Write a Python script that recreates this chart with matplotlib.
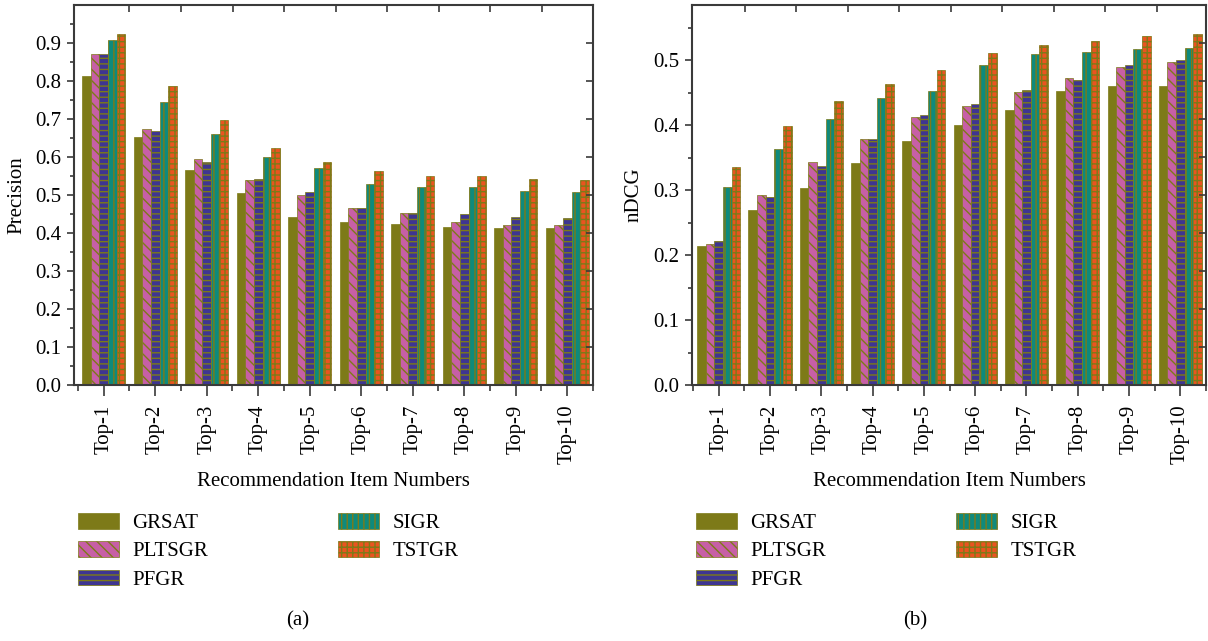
import numpy as np
import matplotlib
matplotlib.use("Agg")
import matplotlib.pyplot as plt
from matplotlib.patches import Patch

categories = ["Top-1", "Top-2", "Top-3", "Top-4", "Top-5",
              "Top-6", "Top-7", "Top-8", "Top-9", "Top-10"]
methods = ["GRSAT", "PLTSGR", "PFGR", "SIGR", "TSTGR"]

precision_grsat = [0.812, 0.652, 0.567, 0.505, 0.442, 0.430, 0.425, 0.417, 0.412, 0.412]
precision_pltsgr = [0.870, 0.675, 0.594, 0.539, 0.500, 0.465, 0.452, 0.430, 0.420, 0.421]
precision_pfgr = [0.872, 0.669, 0.588, 0.543, 0.507, 0.465, 0.452, 0.450, 0.443, 0.440]
precision_sigr = [0.907, 0.744, 0.660, 0.601, 0.570, 0.530, 0.522, 0.520, 0.510, 0.509]
precision_tstgr = [0.924, 0.788, 0.697, 0.623, 0.588, 0.562, 0.550, 0.550, 0.543, 0.540]

ndcg_grsat = [0.214, 0.269, 0.304, 0.341, 0.375, 0.401, 0.423, 0.453, 0.460, 0.460]
ndcg_pltsgr = [0.217, 0.292, 0.344, 0.379, 0.412, 0.430, 0.451, 0.473, 0.489, 0.498]
ndcg_pfgr = [0.221, 0.290, 0.337, 0.378, 0.415, 0.433, 0.454, 0.470, 0.493, 0.500]
ndcg_sigr = [0.305, 0.363, 0.409, 0.442, 0.453, 0.493, 0.509, 0.513, 0.517, 0.519]
ndcg_tstgr = [0.335, 0.399, 0.437, 0.463, 0.485, 0.511, 0.524, 0.530, 0.538, 0.541]

precision = [precision_grsat, precision_pltsgr, precision_pfgr, precision_sigr, precision_tstgr]
ndcg = [ndcg_grsat, ndcg_pltsgr, ndcg_pfgr, ndcg_sigr, ndcg_tstgr]

facecolors = ["#7d7a18", "#c75fa6", "#3e3592", "#0e8a7c", "#ea5420"]
hatches = [None, "\\\\\\", "---", "|||", "+++"]
hatch_edge = "#7d7a18"

plt.rcParams["font.family"] = ["Liberation Serif", "DejaVu Serif"]
plt.rcParams["hatch.linewidth"] = 1.0
FS = 15
spine_col = "#3a3a3a"

fig = plt.figure(figsize=(12.08, 6.41), dpi=100)
W, H = 1208, 641


def make_panel(px_left, px_right, data, ylim, ymajor, ylabel, ylabel_x, xlim, cap, cap_x):
    ax = fig.add_axes([px_left / W, (H - 385) / H, (px_right - px_left) / W, 380 / H])
    x = np.arange(len(categories))
    bw = 0.168
    for i, vals in enumerate(data):
        ax.bar(x + (i - 2) * bw, vals, width=bw, facecolor=facecolors[i],
               edgecolor=hatch_edge if hatches[i] else facecolors[i],
               hatch=hatches[i], linewidth=0.5, zorder=2)
    ax.set_xlim(*xlim)
    ax.set_ylim(*ylim)
    ax.set_xticks(x)
    ax.set_xticklabels(categories, rotation=90, fontsize=FS)
    ax.set_xticks(np.arange(-0.5, len(categories), 1.0), minor=True)
    ax.set_yticks(ymajor)
    ax.set_yticklabels([f"{v:.1f}" for v in ymajor], fontsize=FS)
    ax.set_yticks(np.arange(0.05, ylim[1], 0.1), minor=True)
    ax.tick_params(axis="x", which="major", length=8, width=1.2, color=spine_col, pad=6)
    ax.tick_params(axis="x", which="minor", length=4, width=1.2, color=spine_col)
    ax.tick_params(axis="y", which="major", length=5, width=1.2, color=spine_col, pad=4)
    ax.tick_params(axis="y", which="minor", length=3, width=1.2, color=spine_col)
    for s in ax.spines.values():
        s.set_color(spine_col)
        s.set_linewidth(1.5)
    # right-side inward ticks
    axr = ax.twinx()
    axr.set_ylim(0, 1)
    axr.set_yticks(np.arange(0.1, 1.0, 0.1))
    axr.set_yticklabels([])
    axr.tick_params(axis="y", direction="in", length=5, width=1.2, color=spine_col)
    for s in axr.spines.values():
        s.set_visible(False)
    # top inward ticks
    axt = ax.twiny()
    axt.set_xlim(*xlim)
    axt.set_xticks(np.arange(0.5, len(categories) - 1, 1.0))
    axt.set_xticklabels([])
    axt.tick_params(axis="x", direction="in", length=5, width=1.2, color=spine_col)
    for s in axt.spines.values():
        s.set_visible(False)

    ax.text(0.5, (385 - 482) / 380, "Recommendation Item Numbers", transform=ax.transAxes,
            ha="center", va="center", fontsize=FS)
    fig.text(ylabel_x / W, 1 - 195 / H, ylabel, rotation=90, ha="center", va="center", fontsize=FS)

    handles = [Patch(facecolor=facecolors[i], edgecolor=hatch_edge if hatches[i] else facecolors[i],
                     hatch=hatches[i], linewidth=0.5, label=methods[i]) for i in range(5)]
    ax.legend(handles=handles, ncol=2, loc="upper left",
              bbox_to_anchor=(4 / (px_right - px_left), (385 - 513) / 380),
              frameon=False, fontsize=FS, handlelength=1.97, handleheight=0.77,
              handletextpad=0.63, labelspacing=0.4, columnspacing=6.25,
              borderpad=0, borderaxespad=0)
    fig.text(cap_x / W, 1 - 621 / H, cap, ha="center", va="center", fontsize=FS)
    return ax


make_panel(74, 593, precision, (0, 1.0), np.arange(0, 0.95, 0.1), "Precision", 17,
           (-0.576, 9.49), "(a)", 298)
make_panel(692, 1206, ndcg, (0, 0.585), np.arange(0, 0.55, 0.1), "nDCG", 634,
           (-0.52, 9.45), "(b)", 915)

fig.savefig("out.png", dpi=100)
